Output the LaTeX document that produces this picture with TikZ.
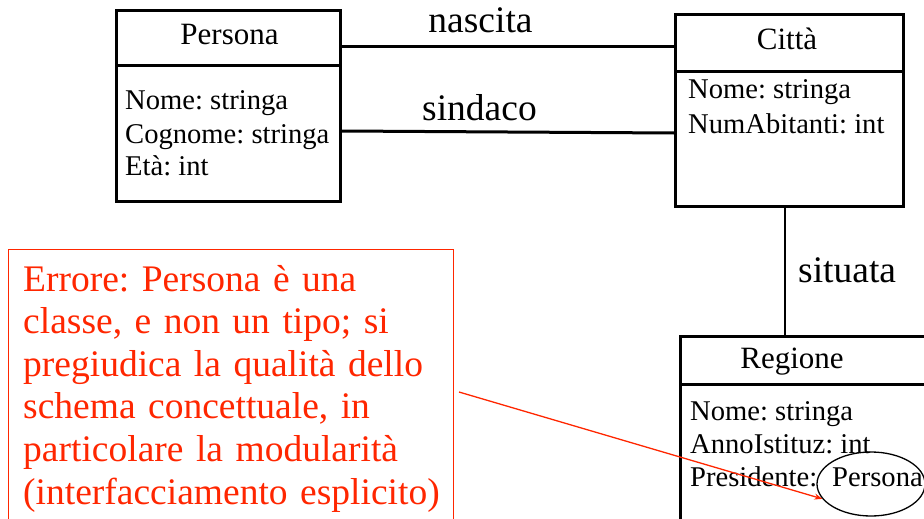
\documentclass[tikz,border=0pt]{standalone}
\usepackage{fontspec}
\setmainfont{Liberation Serif}
\usetikzlibrary{shapes.geometric,arrows.meta}
\definecolor{errred}{RGB}{255,38,0}
\tikzset{
  classbox/.style={draw=black, line width=2.6pt, inner sep=0pt, anchor=north west},
  attr/.style={font=\fontsize{28.6}{33}\selectfont, anchor=base west, inner sep=0pt},
  hdr/.style={font=\fontsize{31}{35}\selectfont, anchor=base, inner sep=0pt},
  lbl/.style={font=\fontsize{37.5}{42}\selectfont, anchor=base, inner sep=0pt},
  assoc/.style={draw=black, line width=3pt},
  errbox/.style={draw=errred, line width=1.4pt, inner sep=0pt, anchor=north west},
  errtext/.style={text=errred, font=\fontsize{37.5}{42.6}\selectfont, anchor=base west, inner sep=0pt, align=left, text width=430pt},
  errarrow/.style={draw=errred, line width=1.3pt, -{Stealth[length=8pt,width=6pt]}},
}
\begin{document}
\frenchspacing
\begin{tikzpicture}[x=1pt,y=-1pt]
\useasboundingbox (0,0) rectangle (924,519);
\clip (0,0) rectangle (924,519);
% Persona
\node[classbox, minimum width=224pt, minimum height=55pt] (perH) at (115,9) {};
\node[classbox, minimum width=224pt, minimum height=136pt] (perB) at (115,64) {};
\node[hdr] (perT) at (229.5,45) {Persona};
\node[attr] (perA1) at (125,110) {Nome: stringa};
\node[attr] (perA2) at (125,143) {Cognome: stringa};
\node[attr] (perA3) at (125,175) {Età: int};
% Citta
\node[classbox, minimum width=228pt, minimum height=57pt] (citH) at (674,13) {};
\node[classbox, minimum width=228pt, minimum height=135pt] (citB) at (674,70) {};
\node[hdr] (citT) at (787,50) {Città};
\node[attr] (citA1) at (688,99) {Nome: stringa};
\node[attr] (citA2) at (688,133) {NumAbitanti: int};
% Regione
\node[classbox, minimum width=260pt, minimum height=48pt] (regH) at (679,335) {};
\node[classbox, minimum width=260pt, minimum height=160pt] (regB) at (679,383) {};
\node[hdr] (regT) at (792,368) {Regione};
\node[attr] (regA1) at (690,420) {Nome: stringa};
\node[attr] (regA2) at (690,453) {AnnoIstituz: int};
\node[attr] (regA3) at (690,486) {Presidente:};
\node[attr] (regA4) at (832,486) {Persona};
\node[draw=black, line width=1.3pt, ellipse, minimum width=108pt, minimum height=64pt, inner sep=0pt] (pel) at (871,484) {};
% associations
\draw[assoc] (perH.east |- 0,47) -- (citH.west |- 0,47);
\node[lbl] (nasc) at (480.5,33) {nascita};
\draw[assoc] (perB.east |- 0,131) -- (citB.west |- 0,133);
\node[lbl] (sind) at (479.5,120) {sindaco};
\draw[draw=black, line width=2.6pt] (citB.south -| 785,0) -- (regH.north -| 785,0);
\node[lbl, anchor=base west] (sit) at (798,282) {situata};
% error note
\node[errbox, minimum width=445pt, minimum height=290pt] (err) at (8,249) {};
\node[errtext] (errT) at (23,291) {Errore: Persona è una\\classe, e non un tipo; si\\pregiudica la qualità dello\\schema concettuale, in\\particolare la modularità\\(interfacciamento esplicito)};
\coordinate (arrS) at (459,392);
\draw[errarrow] (arrS) -- (pel.197);
\end{tikzpicture}
\end{document}
